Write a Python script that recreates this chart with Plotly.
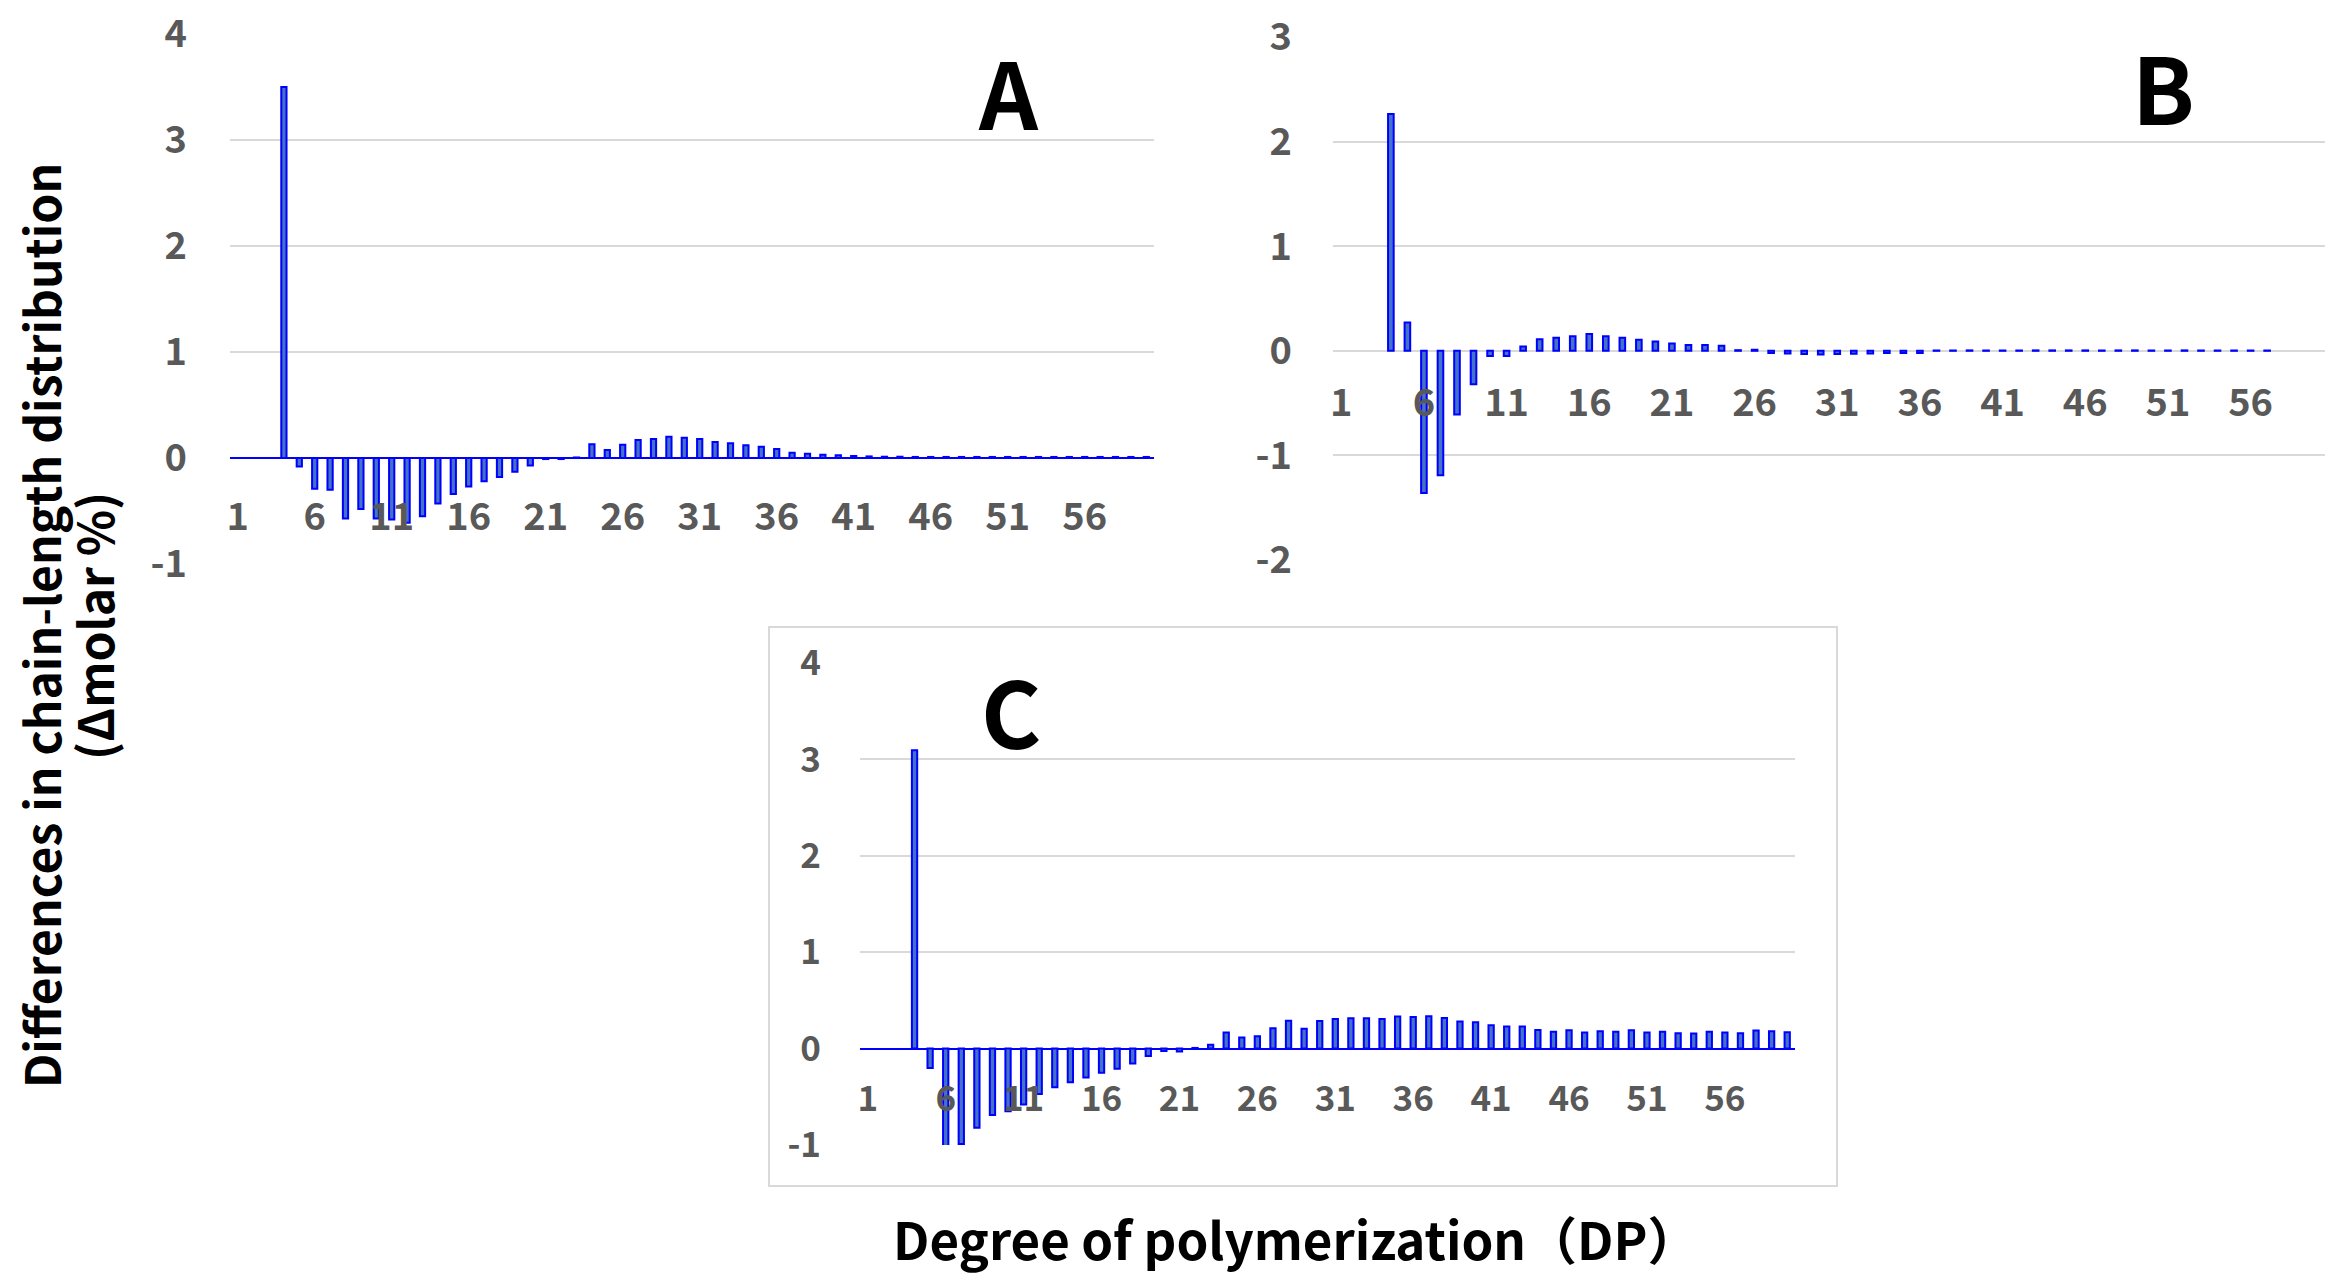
import plotly.graph_objects as go

W, H = 2331, 1276

# ---------------- data ----------------
dp = list(range(1, 61))
tick_dp = [1, 6, 11, 16, 21, 26, 31, 36, 41, 46, 51, 56]
tick_dp_text = [str(v) for v in tick_dp]

panel_a = [None, None, None, 3.50, -0.08, -0.29, -0.30, -0.57, -0.48, -0.57,
           -0.58, -0.61, -0.55, -0.43, -0.34, -0.27, -0.22, -0.18, -0.13, -0.07,
           -0.01, -0.01, 0.005, 0.13, 0.075, 0.125, 0.17, 0.18, 0.20, 0.19,
           0.18, 0.15, 0.14, 0.12, 0.105, 0.085, 0.05, 0.04, 0.03, 0.025,
           0.02, 0.015, 0.012, 0.012, 0.01, 0.01, 0.01, 0.01, 0.01, 0.01,
           0.01, 0.01, 0.01, 0.01, 0.01, 0.01, 0.01, 0.01, 0.01, 0.01]

panel_b = [None, None, None, 2.265, 0.27, -1.36, -1.19, -0.61, -0.32, -0.05,
           -0.05, 0.04, 0.11, 0.125, 0.14, 0.16, 0.14, 0.125, 0.105, 0.09,
           0.07, 0.055, 0.055, 0.048, 0.006, 0.01, -0.02, -0.025, -0.03, -0.036,
           -0.03, -0.028, -0.025, -0.022, -0.02, -0.02, 0.003, 0.003, 0.004, 0.003,
           0.003, 0.003, 0.004, 0.004, 0.004, 0.004, 0.003, 0.004, 0.004, 0.003,
           0.003, 0.004, 0.003, 0.003, 0.003, 0.003, 0.003, None, None, None]

panel_c = [None, None, None, 3.095, -0.20, -1.03, -0.99, -0.82, -0.69, -0.65,
           -0.58, -0.47, -0.40, -0.35, -0.30, -0.25, -0.21, -0.155, -0.076, -0.024,
           -0.03, 0.007, 0.04, 0.166, 0.114, 0.128, 0.21, 0.29, 0.206, 0.287,
           0.306, 0.316, 0.315, 0.308, 0.332, 0.329, 0.336, 0.318, 0.28, 0.273,
           0.242, 0.228, 0.228, 0.194, 0.176, 0.19, 0.166, 0.18, 0.176, 0.19,
           0.166, 0.176, 0.159, 0.156, 0.176, 0.166, 0.159, 0.187, 0.18, 0.17]

y_ticks_a = [-1, 0, 1, 2, 3, 4]
y_ticks_b = [-2, -1, 0, 1, 2, 3]
y_ticks_c = [-1, 0, 1, 2, 3, 4]

# ---------------- layout helpers ----------------
def px_x(v):
    return v / W

def px_y(v):
    return (H - v) / H

TICK_GRAY = "#595959"
GRID = "#d9d9d9"
FILL = "#4472C4"
EDGE = "#0000FF"
JP = "Noto Sans CJK JP"

# plot areas in pixels
geom = {
    "a": dict(x0=230, x1=1154, ytop=34, ybot=564, rng=[-1, 4], fs=38, stand_y=42, stand_x=33, zc=EDGE),
    "b": dict(x0=1333, x1=2325, ytop=37, ybot=560, rng=[-2, 3], fs=38, stand_y=40, stand_x=26, zc=GRID),
    "c": dict(x0=860, x1=1795, ytop=663, ybot=1145, rng=[-1, 4], fs=35, stand_y=38, stand_x=26, zc=EDGE),
}
series = {"a": panel_a, "b": panel_b, "c": panel_c}
yt = {"a": y_ticks_a, "b": y_ticks_b, "c": y_ticks_c}

fig = go.Figure()
layout = dict(width=W, height=H, margin=dict(l=0, r=0, t=0, b=0, autoexpand=False),
              paper_bgcolor="white", plot_bgcolor="white", showlegend=False,
              bargap=0.67)

for i, key in enumerate(["a", "b", "c"]):
    g = geom[key]
    xn = "x" if i == 0 else f"x{i+1}"
    yn = "y" if i == 0 else f"y{i+1}"
    xk = "xaxis" if i == 0 else f"xaxis{i+1}"
    yk = "yaxis" if i == 0 else f"yaxis{i+1}"
    lo, hi = g["rng"]
    y_bot_p = px_y(g["ybot"])
    y_top_p = px_y(g["ytop"])
    zero_p = y_bot_p + (y_top_p - y_bot_p) * (0 - lo) / (hi - lo)
    fig.add_trace(go.Bar(x=dp, y=series[key], xaxis=xn, yaxis=yn,
                         width=0.34, marker=dict(color=FILL, line=dict(color=EDGE, width=2))))
    layout[xk] = dict(domain=[px_x(g["x0"]), px_x(g["x1"])], anchor="free", position=zero_p,
                      range=[0.5, 60.5], tickmode="array", tickvals=tick_dp, ticktext=tick_dp_text,
                      showgrid=False, showline=False, zeroline=False, ticks="", automargin=False,
                      ticklabelstandoff=g["stand_x"],
                      tickfont=dict(family=JP, size=g["fs"], color=TICK_GRAY, weight="bold"))
    layout[yk] = dict(domain=[y_bot_p, y_top_p], anchor=xn, range=g["rng"],
                      tickmode="array", tickvals=yt[key], ticktext=[str(v) for v in yt[key]],
                      showgrid=True, gridcolor=GRID, gridwidth=2, automargin=False,
                      zeroline=True, zerolinecolor=g["zc"], zerolinewidth=2,
                      showline=False, ticks="", ticklabelstandoff=g["stand_y"],
                      tickfont=dict(family=JP, size=g["fs"], color=TICK_GRAY, weight="bold"))

fig.update_layout(**layout)

# panel C frame
fig.add_shape(type="rect", xref="paper", yref="paper",
              x0=px_x(769), x1=px_x(1837), y0=px_y(1186), y1=px_y(627),
              line=dict(color=GRID, width=2), layer="below")

# panel letters
for letter, cx, cy in [("A", 1008, 90), ("B", 2163, 84), ("C", 1011, 708)]:
    fig.add_annotation(text=letter, xref="paper", yref="paper", x=px_x(cx), y=px_y(cy),
                       xanchor="center", yanchor="middle", showarrow=False,
                       font=dict(family=JP, size=92, color="black", weight="bold"))

# axis titles
TITLE_FONT = dict(family=JP, size=48, color="black", weight="bold")
fig.add_annotation(text="Differences in chain-length distribution",
                   xref="paper", yref="paper", x=px_x(40), y=px_y(626),
                   xanchor="center", yanchor="middle", textangle=-90, showarrow=False,
                   font=TITLE_FONT)
fig.add_annotation(text="(Δmolar %)",
                   xref="paper", yref="paper", x=px_x(93), y=px_y(626),
                   xanchor="center", yanchor="middle", textangle=-90, showarrow=False,
                   font=TITLE_FONT)
fig.add_annotation(text="Degree of polymerization（DP）",
                   xref="paper", yref="paper", x=px_x(1296), y=px_y(1238),
                   xanchor="center", yanchor="middle", showarrow=False,
                   font=dict(family=JP, size=51, color="black", weight="bold"))

fig.write_html("out.html")
